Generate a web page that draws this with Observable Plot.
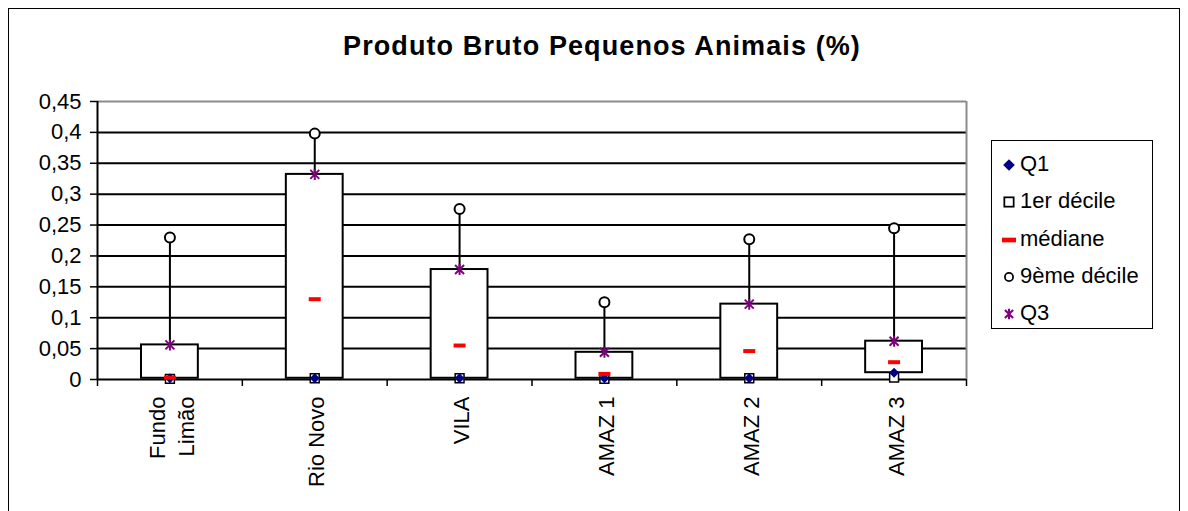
<!DOCTYPE html>
<html>
<head>
<meta charset="utf-8">
<script src="https://cdn.jsdelivr.net/npm/d3@7"></script>
<script src="https://cdn.jsdelivr.net/npm/@observablehq/plot@0.6"></script>
<style>
  html, body { margin: 0; padding: 0; background: #fff; }
  #wrap { position: relative; width: 1188px; height: 511px; overflow: hidden; font-family: "Liberation Sans", Arial, sans-serif; }
  #frame { position: absolute; left: 8px; top: 8px; width: 1172px; height: 520px; border: 1.5px solid #000; box-sizing: border-box; }
  #title { position: absolute; left: 0; width: 1204px; top: 31px; text-align: center; font-weight: bold; font-size: 27px; letter-spacing: 1.1px; color: #000; }
  #chart { position: absolute; left: 0; top: 0; }
  #legend { position: absolute; left: 991px; top: 140px; width: 162px; height: 189px; border: 1.5px solid #000; box-sizing: border-box; background: #fff; }
  .item { position: absolute; left: 0; height: 30px; font-size: 22px; line-height: 30px; white-space: nowrap; }
  .item svg { position: absolute; left: 10px; }
  .item span { position: absolute; left: 28px; top: 0; }
</style>
</head>
<body>
<div id="wrap">
  <div id="frame"></div>
  <div id="title">Produto Bruto Pequenos Animais (%)</div>
  <div id="chart"></div>
  <div id="legend"></div>
</div>
<script>
// ---- data ----
const categories = ["Fundo\nLimão", "Rio Novo", "VILA", "AMAZ 1", "AMAZ 2", "AMAZ 3"];
const q1      = [0.002, 0.002, 0.002, 0.002, 0.002, 0.011];
const decile1 = [0.001, 0.002, 0.002, 0.001, 0.002, 0.003];
const median  = [0.003, 0.130, 0.055, 0.009, 0.046, 0.028];
const decile9 = [0.230, 0.398, 0.276, 0.125, 0.227, 0.245];
const q3      = [0.056, 0.332, 0.178, 0.044, 0.122, 0.062];
const yTicks  = [0, 0.05, 0.1, 0.15, 0.2, 0.25, 0.3, 0.35, 0.4, 0.45];
const seriesNames = ["Q1", "1er décile", "médiane", "9ème décile", "Q3"];

const rows = categories.map((c, i) => ({
  cat: c, i, xc: i + 0.5,
  q1: q1[i], d1: decile1[i], med: median[i], d9: decile9[i], q3: q3[i]
}));

const dash = { draw(ctx) { ctx.rect(-6, -2, 12, 4); } };
const star = { draw(ctx) {
  ctx.moveTo(-4.5, -4.5); ctx.lineTo(4.5, 4.5);
  ctx.moveTo(4.5, -4.5); ctx.lineTo(-4.5, 4.5);
  ctx.moveTo(0, -5.5); ctx.lineTo(0, 5.5);
} };

const fmt = d => String(d).replace(".", ",");

const plot = Plot.plot({
  width: 1188,
  height: 511,
  marginLeft: 97,
  marginRight: 222,
  marginTop: 101,
  marginBottom: 132,
  style: { fontFamily: "Liberation Sans, Arial, sans-serif", fontSize: "22px", background: "transparent", color: "#000", overflow: "visible" },
  x: { domain: [0, categories.length], axis: null },
  y: { domain: [0, 0.45], axis: null },
  marks: [
    Plot.ruleY(yTicks.slice(0, -1), { stroke: "#000", strokeWidth: 2 }),
    Plot.ruleY([0.45], { stroke: "#8c8c8c", strokeWidth: 2 }),
    Plot.ruleX([categories.length], { stroke: "#8c8c8c", strokeWidth: 2 }),
    Plot.ruleX([0], { stroke: "#000", strokeWidth: 2 }),
    Plot.axisY(yTicks, { tickFormat: fmt, tickSize: 7, tickPadding: 9, fontSize: 22, stroke: "#000", strokeWidth: 1.5, label: null }),
    Plot.axisX(d3.range(categories.length + 1), { tickFormat: () => "", tickSize: 7, stroke: "#000", strokeWidth: 1.5, label: null }),
    Plot.text(rows, { x: "xc", y: 0, text: "cat", rotate: -90, textAnchor: "end", lineAnchor: "middle", lineHeight: 1.36, dy: 17, fontSize: 22, fill: "#000" }),
    Plot.ruleX(rows, { x: "xc", y1: "d1", y2: "d9", stroke: "#000", strokeWidth: 2 }),
    Plot.rect(rows, { x1: "i", x2: d => d.i + 1, y1: "q1", y2: "q3", insetLeft: 44, insetRight: 44, fill: "#fff", stroke: "#000", strokeWidth: 2 }),
    Plot.dot(rows, { x: "xc", y: "d1", symbol: "square", r: 5, fill: "#fff", stroke: "#000", strokeWidth: 1.5 }),
    Plot.dot(rows, { x: "xc", y: "q1", symbol: "diamond2", r: 4.5, fill: "#000080", stroke: "none" }),
    Plot.dot(rows, { x: "xc", y: "med", symbol: dash, r: 4, fill: "#ff0000", stroke: "none" }),
    Plot.dot(rows, { x: "xc", y: "d9", symbol: "circle", r: 5, fill: "#fff", stroke: "#000", strokeWidth: 2 }),
    Plot.dot(rows, { x: "xc", y: "q3", symbol: star, r: 4, fill: "none", stroke: "#800080", strokeWidth: 2 })
  ]
});
document.getElementById("chart").appendChild(plot);

// ---- legend ----
const legendMarkers = [
  `<polygon points="6,1 11,6 6,11 1,6" fill="#000080"/>`,
  `<rect x="2" y="2" width="8" height="8" fill="#fff" stroke="#000" stroke-width="1.5"/>`,
  `<rect x="0" y="4" width="12" height="4" fill="#ff0000"/>`,
  `<circle cx="6" cy="6" r="3.5" fill="#fff" stroke="#000" stroke-width="1.5"/>`,
  `<path d="M2.5,2.5L9.5,9.5M9.5,2.5L2.5,9.5M6,1.5L6,10.5" stroke="#800080" stroke-width="1.8" fill="none"/>`
];
const legend = document.getElementById("legend");
seriesNames.forEach((name, k) => {
  const div = document.createElement("div");
  div.className = "item";
  div.style.top = (8 + k * 37.3) + "px";
  div.innerHTML = `<svg width="14" height="14" viewBox="0 0 12 12" style="top:9px">${legendMarkers[k]}</svg><span>${name}</span>`;
  legend.appendChild(div);
});
</script>
</body>
</html>
